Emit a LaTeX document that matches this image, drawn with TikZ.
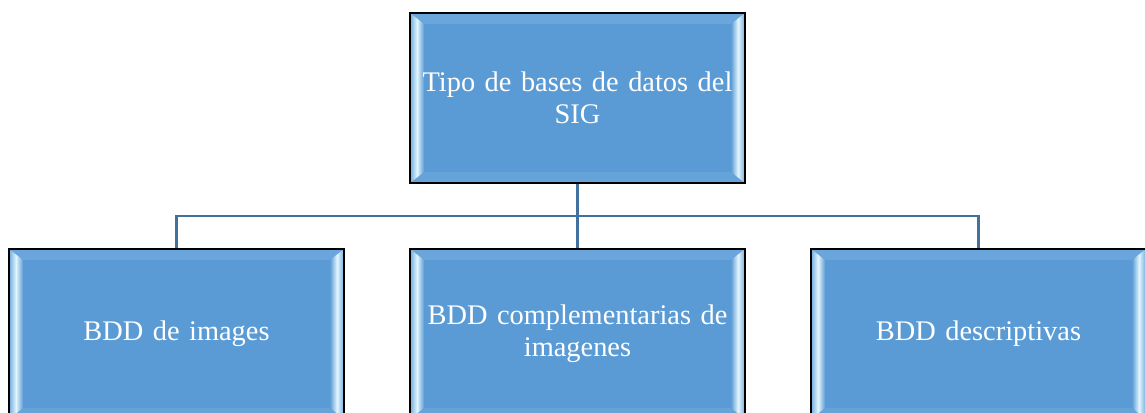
\documentclass[tikz,border=0pt]{standalone}
\usepackage{fontspec}
\setmainfont{Liberation Serif}
\usetikzlibrary{calc}
\definecolor{boxblue}{HTML}{5B9BD5}
\definecolor{bevtop}{HTML}{6AA6DB}
\definecolor{bevbot}{HTML}{66A3D9}
\definecolor{bevout}{HTML}{72ACDE}
\definecolor{bevhi}{HTML}{E2F5FC}
\definecolor{bevin}{HTML}{5E9DD6}
\definecolor{connblue}{HTML}{41719C}
\newcommand{\boxfont}{\fontsize{28.4}{32}\selectfont}
\tikzset{
  bevelbox/.style={draw=black, line width=1.8pt, fill=boxblue,
    minimum width=335pt, minimum height=170pt, text width=325pt,
    align=center, text=white, font=\boxfont, inner sep=0pt,
    path picture={
      \path (path picture bounding box.south west) coordinate (pA)
            (path picture bounding box.north east) coordinate (pB);
      \fill[bevtop] (pA |- pB) -- (pB) -- ($(pB)+(-14pt,-11pt)$)
            -- ($(pA |- pB)+(14pt,-11pt)$) -- cycle;
      \fill[bevbot] (pA) -- (pB |- pA) -- ($(pB |- pA)+(-14pt,11pt)$)
            -- ($(pA)+(14pt,11pt)$) -- cycle;
      \shade[left color=bevout, right color=bevin, middle color=bevhi]
            (pA) -- (pA |- pB) -- ($(pA |- pB)+(14pt,-11pt)$)
            -- ($(pA)+(14pt,11pt)$) -- cycle;
      \shade[left color=bevin, right color=bevout, middle color=bevhi]
            (pB |- pA) -- (pB) -- ($(pB)+(-14pt,-11pt)$)
            -- ($(pB |- pA)+(-14pt,11pt)$) -- cycle;
    }},
  conn/.style={draw=connblue, line width=2.4pt}
}
\begin{document}
\begin{tikzpicture}[x=1pt,y=1pt]
\useasboundingbox (0,0) rectangle (1145,412);
\clip (0,0) rectangle (1145,412);
\node[bevelbox] (top) at (577.5,314) {Tipo de bases de datos del\\SIG};
\node[bevelbox] (b1) at (176.5,78) {BDD de images};
\node[bevelbox] (b2) at (577.5,78) {BDD complementarias de\\imagenes};
\node[bevelbox] (b3) at (978.5,78) {BDD descriptivas};
\coordinate (bus) at (577.5,196);
\draw[conn] (top.south) -- (bus);
\draw[conn] (bus) -| (b1.north);
\draw[conn] (bus) -| (b3.north);
\draw[conn] (bus) -- (b2.north);
\end{tikzpicture}
\end{document}
